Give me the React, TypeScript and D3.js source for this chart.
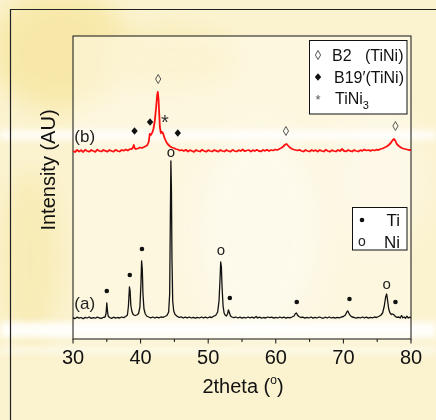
import React from "react";
import * as d3 from "d3";

// ---- data (2theta, intensity in plotted arbitrary units) ----
const seriesA: [number, number][] = [
  [30.0,21],[30.3,20.5],[30.6,21.8],[30.9,20.8],[31.2,21.5],[31.5,20.2],[31.8,21.6],[32.1,21],[32.4,22],[32.7,20.6],
  [33.0,21.4],[33.3,20.8],[33.6,21.9],[33.9,21],[34.2,20.6],[34.5,21.7],[34.75,22],[34.9,26],[35.0,36],[35.1,28],
  [35.2,23],[35.4,21.5],[35.7,20.6],[36.0,21.8],[36.3,20.9],[36.6,21.5],[36.9,21],[37.2,22],[37.5,21.4],[37.8,22.5],
  [38.05,24],[38.2,33],[38.35,52],[38.45,48],[38.55,34],[38.7,28],[38.85,25],[39.0,24],[39.2,23.5],[39.45,24],
  [39.7,25.5],[39.9,32],[40.05,55],[40.15,78],[40.25,70],[40.35,45],[40.5,30],[40.7,25],[40.9,23],[41.2,22],
  [41.5,21.2],[41.8,22],[42.1,21],[42.4,21.8],[42.7,21.2],[43.0,22],[43.3,21.6],[43.6,22.5],[43.9,23.5],[44.15,27],
  [44.3,45],[44.4,120],[44.48,178],[44.56,150],[44.64,80],[44.75,38],[44.9,28],[45.1,24.5],[45.4,22.8],[45.7,21.5],
  [46.0,22.2],[46.3,21],[46.6,21.8],[46.9,21.2],[47.2,22],[47.5,21],[47.8,21.7],[48.1,20.8],[48.4,21.6],[48.7,21],
  [49.0,22],[49.3,21.2],[49.6,21.8],[49.9,21],[50.2,22],[50.5,21.5],[50.8,22.8],[51.1,23.5],[51.4,27],[51.6,38],
  [51.75,60],[51.85,77],[51.95,72],[52.05,52],[52.2,33],[52.35,26],[52.5,24],[52.7,23],[52.85,25],[53.0,29],
  [53.15,26],[53.3,23],[53.5,22],[53.8,21.3],[54.1,22],[54.4,21],[54.7,21.8],[55.0,20.8],[55.3,21.6],[55.6,21],
  [55.9,22],[56.2,21.2],[56.5,21.8],[56.8,20.9],[57.1,22.5],[57.3,21],[57.6,21.8],[57.9,20.8],[58.2,21.5],[58.5,21],
  [58.8,22],[59.1,21.3],[59.4,21.8],[59.7,20.8],[60.0,21.6],[60.3,21],[60.6,22],[60.9,21.2],[61.2,21.8],[61.5,20.9],
  [61.8,21.7],[62.1,21.2],[62.4,22],[62.7,23],[62.9,25.5],[63.05,26],[63.2,24],[63.4,22.5],[63.7,21.5],[64.0,21.8],
  [64.3,20.8],[64.6,21.6],[64.9,21],[65.2,22],[65.5,20.9],[65.8,21.7],[66.1,21],[66.4,22],[66.7,21.3],[67.0,20.7],
  [67.3,21.8],[67.6,21],[67.9,22],[68.2,21],[68.5,21.7],[68.8,20.8],[69.1,21.6],[69.4,21.2],[69.7,22],[70.0,22.5],
  [70.3,24],[70.5,27],[70.65,28],[70.8,26],[71.0,23.5],[71.3,22],[71.6,21.5],[71.9,20.8],[72.2,21.7],[72.5,21],
  [72.8,22],[73.1,21.2],[73.4,21.8],[73.7,20.8],[74.0,21.6],[74.3,21.2],[74.6,22],[74.9,21.5],[75.2,22.5],[75.5,23.5],
  [75.8,26],[76.05,33],[76.25,42],[76.4,45],[76.55,38],[76.7,30],[76.9,26],[77.1,24.5],[77.3,25],[77.5,24],
  [77.7,22.5],[77.9,21.6],[78.2,22],[78.4,21],[78.6,23.5],[78.8,21.2],[79.0,22],[79.2,20.8],[79.4,22.8],[79.6,21],
  [79.8,21.8],[80.0,21.2],
];

const seriesB: [number, number][] = [
  [30.0,188],[30.3,187],[30.6,189],[30.9,187.5],[31.2,188.8],[31.5,187],[31.8,189.2],[32.1,188],[32.4,187.3],[32.7,189],
  [33.0,188],[33.3,187.2],[33.6,189.3],[33.9,188],[34.2,187.5],[34.5,189],[34.8,188.2],[35.1,187.4],[35.4,189],[35.7,188],
  [36.0,187.3],[36.3,189.2],[36.6,188],[36.9,187.5],[37.2,189],[37.5,188.3],[37.8,189.5],[38.1,188.5],[38.4,189.8],[38.7,190],
  [38.9,192],[39.0,194],[39.1,191],[39.3,190],[39.6,190.5],[39.9,191.5],[40.2,191],[40.5,192],[40.8,193],[41.0,194],
  [41.2,197],[41.35,205],[41.5,204],[41.7,206],[41.9,210],[42.1,218],[42.3,232],[42.45,244],[42.55,247],[42.65,240],
  [42.75,226],[42.85,212],[43.0,206],[43.15,207],[43.3,206],[43.45,203],[43.6,200],[43.8,197],[44.0,195],[44.3,193],
  [44.6,191.5],[44.9,191],[45.2,190],[45.5,189.5],[45.8,188.5],[46.1,189],[46.4,188],[46.7,189.2],[47.0,187.5],[47.3,188.8],
  [47.6,188],[47.9,187.2],[48.2,189],[48.5,188],[48.8,187.5],[49.1,189.2],[49.4,188],[49.7,187.3],[50.0,188.8],[50.3,188],
  [50.6,187.5],[50.9,189],[51.2,188.2],[51.5,187.4],[51.8,189],[52.1,188],[52.4,187.5],[52.7,189],[53.0,188],[53.3,187.3],
  [53.6,189.2],[53.9,188],[54.2,187.5],[54.5,188.8],[54.8,188],[55.1,189.5],[55.4,187.8],[55.7,188.5],[56.0,189],[56.3,187.5],
  [56.6,188.8],[56.9,188],[57.2,189.2],[57.5,188],[57.8,187.6],[58.1,189],[58.4,188.2],[58.7,189.3],[59.0,188],[59.3,189],
  [59.6,188.5],[59.9,189.5],[60.2,189],[60.5,190],[60.8,191],[61.1,192.5],[61.4,194.5],[61.6,195],[61.8,193.5],[62.0,192],
  [62.3,190.5],[62.6,189.5],[62.9,189],[63.2,188.5],[63.5,189.2],[63.8,188],[64.1,187.5],[64.4,189],[64.7,188],[65.0,187.5],
  [65.3,189],[65.6,188],[65.9,188.8],[66.2,187.4],[66.5,189],[66.8,188],[67.1,187.5],[67.4,189.2],[67.7,188],[68.0,187.3],
  [68.3,188.8],[68.6,188],[68.9,187.5],[69.2,189],[69.5,188],[69.8,190],[70.1,188],[70.4,187.6],[70.7,189],[71.0,188.2],
  [71.3,187.5],[71.6,189],[71.9,188],[72.2,187.5],[72.5,188.8],[72.8,188.2],[73.1,189.4],[73.4,188.5],[73.7,189],[74.0,188.2],
  [74.3,189],[74.6,188.5],[74.9,189.3],[75.2,189],[75.5,190],[75.8,190.5],[76.1,191.5],[76.4,192.5],[76.7,194],[77.0,196],
  [77.3,199],[77.5,200],[77.7,198],[77.9,195],[78.2,193],[78.5,191.5],[78.8,190.5],[79.1,190],[79.4,189.5],[79.7,189],
  [80.0,189],
];

// peak annotation marks
const tiMarks: [number, number][] = [[35.0,48],[38.4,64],[40.2,90],[53.2,41],[63.1,37],[70.9,40],[77.7,37]];
const niMarks: [number, number][] = [[44.5,186],[51.9,88],[76.4,54]];
const b2Marks: [number, number][] = [[42.6,260],[61.5,208],[77.7,213]];
const b19Marks: [number, number][] = [[39.1,208],[41.4,217],[45.5,206]];
const tini3Marks: [number, number][] = [[43.6,219]];
const seriesLabels: { text: string; x: number; y: number }[] = [
  { text: "(b)", x: 30.2, y: 203 },
  { text: "(a)", x: 30.2, y: 36 },
];
const xTicks = [30, 40, 50, 60, 70, 80];
const xMinorTicks = [35, 45, 55, 65, 75];

const W = 436, H = 420;
const M = { left: 73, top: 36, right: 411, bottom: 339 };
const FONT = "'Liberation Sans', Arial, Helvetica, sans-serif";

export default function App() {
  const x = d3.scaleLinear().domain([30, 80]).range([M.left, M.right]);
  const y = d3.scaleLinear().domain([0, 303]).range([M.bottom, M.top]);
  const line = d3.line<[number, number]>().x(d => x(d[0])).y(d => y(d[1]));

  const openDiamond = (cx: number, cy: number, k: number) =>
    <path key={k} d={`M${cx},${cy - 4.5}L${cx + 2.6},${cy}L${cx},${cy + 4.5}L${cx - 2.6},${cy}Z`} fill="none" stroke="#555" strokeWidth={1} />;
  const fullDiamond = (cx: number, cy: number, k: number) =>
    <path key={k} d={`M${cx},${cy - 3.8}L${cx + 3.2},${cy}L${cx},${cy + 3.8}L${cx - 3.2},${cy}Z`} fill="#111" />;

  return (
    <svg width={W} height={H} style={{ position: "absolute", left: 0, top: 0 }} fontFamily={FONT}>
      <defs>
        <filter id="blur" x="-50%" y="-50%" width="200%" height="200%">
          <feGaussianBlur stdDeviation="12" />
        </filter>
        <filter id="blur2" x="-10%" y="-100%" width="120%" height="300%">
          <feGaussianBlur stdDeviation="3" />
        </filter>
      </defs>
      {/* background watermark approximation */}
      <rect x={0} y={0} width={W} height={H} fill="#fbf3d0" />
      <g filter="url(#blur)" opacity={0.8}>
        <ellipse cx={60} cy={50} rx={70} ry={60} fill="#f7e6a0" />
        <ellipse cx={170} cy={60} rx={70} ry={30} fill="#f8eab0" />
        <ellipse cx={30} cy={260} rx={30} ry={90} fill="#f8eab0" />
        <ellipse cx={260} cy={230} rx={60} ry={100} fill="#fdf9ec" />
        <ellipse cx={380} cy={180} rx={50} ry={60} fill="#fcf6e0" />
      </g>
      <rect x={M.left} y={M.top} width={M.right - M.left} height={M.bottom - M.top} fill="#fffdf3" opacity={0.45} />
      <g filter="url(#blur2)">
        <rect x={0} y={130} width={W} height={10} fill="#ffffff" opacity={0.8} />
        <rect x={0} y={322} width={W} height={16} fill="#ffffff" opacity={0.9} />
        <rect x={0} y={346} width={W} height={8} fill="#ffffff" opacity={0.5} />
      </g>

      {/* outer frame */}
      <path d={`M10.5,${H}V9.5H${W}`} fill="none" stroke="#222" strokeWidth={1.2} />

      {/* plot frame */}
      <rect x={M.left} y={M.top} width={M.right - M.left} height={M.bottom - M.top} fill="none" stroke="#111" strokeWidth={1} />

      {/* x axis ticks */}
      {xTicks.map(t => (
        <g key={t}>
          <line x1={x(t)} x2={x(t)} y1={M.bottom} y2={M.bottom + 4.5} stroke="#111" />
          <text x={x(t)} y={364} fontSize={20} textAnchor="middle" fill="#111">{t}</text>
        </g>
      ))}
      {xMinorTicks.map(t => (
        <line key={t} x1={x(t)} x2={x(t)} y1={M.bottom} y2={M.bottom + 3} stroke="#111" />
      ))}
      <text x={(M.left + M.right) / 2 + 1} y={393} fontSize={20} textAnchor="middle" fill="#111">
        2theta (<tspan dy={-9} fontSize={12}>o</tspan><tspan dy={9}>)</tspan>
      </text>
      <text transform={`translate(55,${170}) rotate(-90)`} fontSize={20} textAnchor="middle" fill="#111">Intensity (AU)</text>

      {/* curves */}
      <path d={line(seriesB) || ""} fill="none" stroke="#ff1010" strokeWidth={1.8} strokeLinejoin="round" />
      <path d={line(seriesA) || ""} fill="none" stroke="#111" strokeWidth={1.3} strokeLinejoin="round" />

      {/* series labels */}
      {seriesLabels.map(l => (
        <text key={l.text} x={x(l.x)} y={y(l.y) + 6} fontSize={17} fill="#222">{l.text}</text>
      ))}

      {/* peak marks */}
      {tiMarks.map((d, i) => <circle key={i} cx={x(d[0])} cy={y(d[1])} r={2.3} fill="#111" />)}
      {niMarks.map((d, i) => <text key={i} x={x(d[0])} y={y(d[1]) + 4} fontSize={15} textAnchor="middle" fill="#222">o</text>)}
      {b2Marks.map((d, i) => openDiamond(x(d[0]), y(d[1]), i))}
      {b19Marks.map((d, i) => fullDiamond(x(d[0]), y(d[1]), i))}
      {tini3Marks.map((d, i) => <text key={i} x={x(d[0])} y={y(d[1]) + 9} fontSize={20} textAnchor="middle" fill="#333">*</text>)}

      {/* legend 1 */}
      <rect x={309.5} y={40.5} width={97.5} height={73.5} fill="#fff" stroke="#111" strokeWidth={1} />
      {openDiamond(318, 55, 100)}
      <text x={332} y={61} fontSize={16} fill="#111">B2</text>
      <text x={365} y={61} fontSize={16} fill="#111">(TiNi)</text>
      {fullDiamond(318, 77, 101)}
      <text x={334} y={83} fontSize={16} fill="#111">B19′(TiNi)</text>
      <text x={318} y={104} fontSize={13} textAnchor="middle" fill="#555">*</text>
      <text x={335} y={104} fontSize={16} fill="#111">TiNi<tspan dy={5} fontSize={11}>3</tspan></text>

      {/* legend 2 */}
      <rect x={352.5} y={207.5} width={54.5} height={42.5} fill="#fff" stroke="#111" strokeWidth={1} />
      <circle cx={362} cy={220} r={2.3} fill="#111" />
      <text x={400} y={226} fontSize={17} textAnchor="end" fill="#111">Ti</text>
      <text x={362} y={246} fontSize={14} textAnchor="middle" fill="#222">o</text>
      <text x={400} y={248} fontSize={17} textAnchor="end" fill="#111">Ni</text>
    </svg>
  );
}
